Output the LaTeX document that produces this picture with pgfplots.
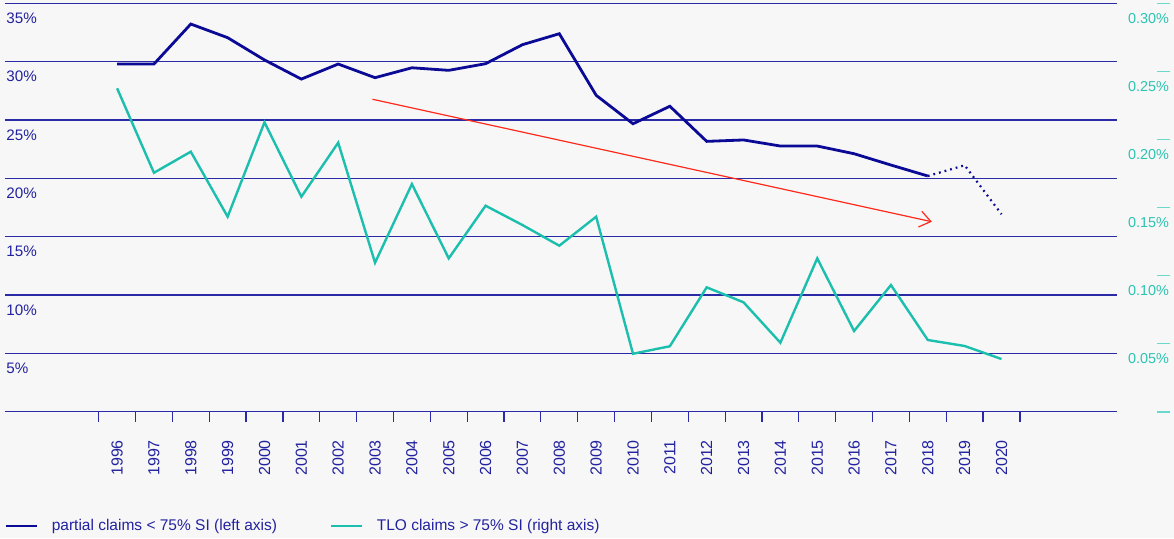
\documentclass[border=0pt]{standalone}
\usepackage{fontspec}
\setmainfont{Liberation Sans}
\usepackage{pgfplots}
\pgfplotsset{compat=1.18}
\usetikzlibrary{arrows.meta}
\definecolor{bgc}{HTML}{F7F7F7}
\definecolor{navy}{HTML}{0A0A96}
\definecolor{gridc}{HTML}{2A2AA6}
\definecolor{txtblue}{HTML}{2222A0}
\definecolor{tealc}{HTML}{1CBFAE}
\definecolor{tealtxt}{HTML}{2CC4B2}
\definecolor{tealtick}{HTML}{6AD8CA}
\definecolor{redc}{HTML}{FF2A1A}

\begin{document}
\begin{tikzpicture}
\fill[bgc] (-2.5pt,-63.15pt) rectangle (584.5pt,205.85pt);

% left axis: partial claims, grid, years
\begin{axis}[
  at={(0,0)}, anchor=south west,
  scale only axis, width=556pt, height=204.1pt,
  xmin=-3.042, xmax=27.134, ymin=0, ymax=35,
  axis line style={draw=none},
  xtick={-0.5,0.5,...,24.5},
  xticklabels={1996,1997,1998,1999,2000,2001,2002,2003,2004,2005,2006,2007,2008,
    2009,2010,2011,2012,2013,2014,2015,2016,2017,2018,2019,2020},
  x tick label as interval,
  xtick pos=bottom,
  tick align=outside, major tick length=5pt,
  xtick style={gridc, line width=0.6pt},
  xticklabel style={font=\fontsize{8}{9}\selectfont, text=txtblue, inner sep=0pt,
    yshift=-9pt, rotate=90, anchor=east},
  ytick={0,5,10,15,20,25,30,35},
  yticklabels={,5\%,10\%,15\%,20\%,25\%,30\%,35\%},
  ytick style={draw=none},
  yticklabel style={font=\fontsize{7.6}{9}\selectfont, text=txtblue, inner sep=0pt,
    anchor=west, xshift=5.5pt, yshift=-7.4pt},
  ymajorgrids,
  major grid style={gridc, line width=0.65pt},
  legend columns=2,
  legend cell align=left,
  legend image code/.code={\draw[#1] (0pt,0pt) -- (15.5pt,0pt);},
  legend style={at={(axis description cs:0,-0.280)}, anchor=west,
    draw=none, fill=none, inner sep=0pt, outer sep=0pt,
    font=\fontsize{7.75}{9}\selectfont, text=txtblue,
    nodes={inner sep=0pt},
    /tikz/every odd column/.append style={column sep=6.5pt},
    /tikz/every even column/.append style={column sep=26.5pt}},
]
\addplot[navy, line width=1.4pt] coordinates {
  (0,29.81) (1,29.81) (2,33.24) (3,32.07) (4,30.16) (5,28.52) (6,29.81)
  (7,28.64) (8,29.49) (9,29.27) (10,29.84) (11,31.47) (12,32.41) (13,27.13)
  (14,24.69) (15,26.19) (16,23.18) (17,23.30) (18,22.78) (19,22.78)
  (20,22.12) (21,21.15) (22,20.21)};
\addlegendentry{partial claims < 75\% SI (left axis)}
\addplot[navy, line width=1.1pt, dash pattern=on 0.9pt off 2pt, forget plot] coordinates {
  (22,20.21) (23,21.13) (24,16.93)};
\addlegendimage{tealc, line width=1.4pt}
\addlegendentry{TLO claims > 75\% SI (right axis)}
\draw[redc, line width=0.6pt, -{Straight Barb[length=5.5pt,width=8pt]}]
  (axis cs:6.93,26.79) -- (axis cs:22.11,16.29);
\end{axis}

% right axis: TLO claims
\begin{axis}[
  at={(0,0)}, anchor=south west,
  scale only axis, width=582.5pt, height=204.1pt,
  xmin=-3.042, xmax=28.573, ymin=0, ymax=0.3,
  axis line style={draw=none},
  xtick=\empty,
  ytick={0,0.05,0.1,0.15,0.2,0.25,0.3},
  yticklabels={,0.05\%,0.10\%,0.15\%,0.20\%,0.25\%,0.30\%},
  ytick pos=right, yticklabel pos=right,
  tick align=inside, major tick length=6.5pt,
  ytick style={tealtick, line width=0.8pt},
  yticklabel style={font=\fontsize{7.2}{9}\selectfont, text=tealtxt, inner sep=0pt,
    anchor=east, xshift=-0.35pt, yshift=-7.35pt},
]
\addplot[tealc, line width=1.2pt] coordinates {
  (0,0.2377) (1,0.1756) (2,0.1911) (3,0.1433) (4,0.2127) (5,0.1580) (6,0.1977)
  (7,0.1095) (8,0.1673) (9,0.1127) (10,0.1514) (11,0.1372) (12,0.1220)
  (13,0.1433) (14,0.0426) (15,0.0481) (16,0.0914) (17,0.0804) (18,0.0507)
  (19,0.1127) (20,0.0593) (21,0.0931) (22,0.0527) (23,0.0483) (24,0.0387)};
\end{axis}

\pgfresetboundingbox
\path (-2.5pt,-63.15pt) rectangle (584.5pt,205.85pt);
\end{tikzpicture}
\end{document}
